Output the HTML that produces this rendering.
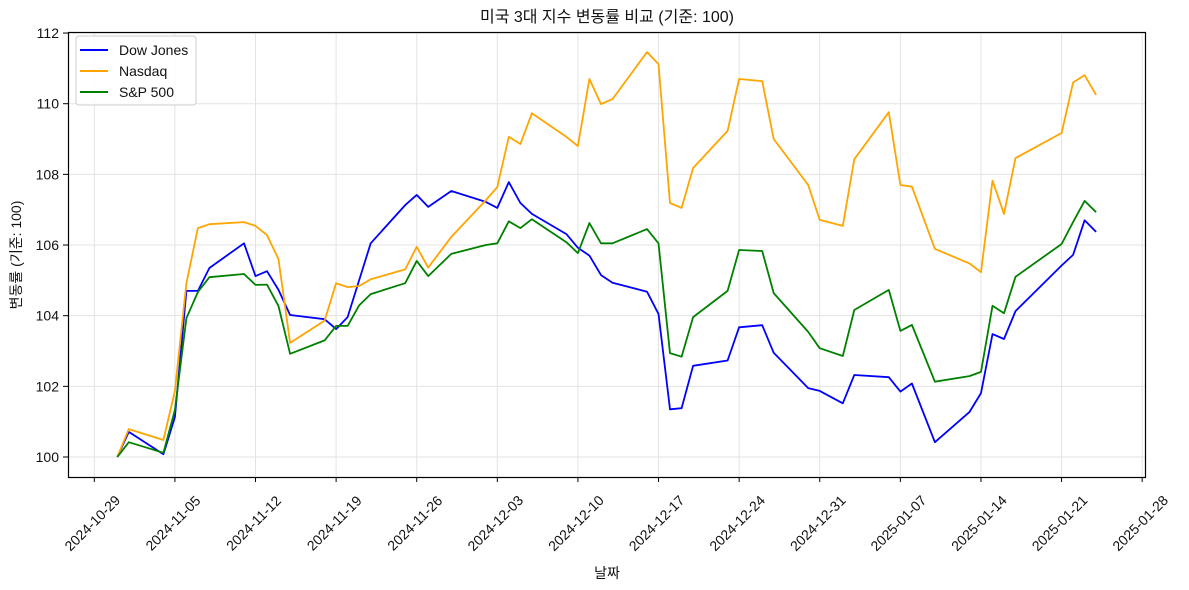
<!DOCTYPE html>
<html><head><meta charset="utf-8"><style>
html,body{margin:0;padding:0;background:#fff;}
svg{display:block;font-family:"Liberation Sans","Noto Sans CJK KR",sans-serif;}
</style></head><body>
<svg id="chart" width="1189" height="590" viewBox="0 0 1189 590" xmlns="http://www.w3.org/2000/svg">
<rect x="0" y="0" width="1189" height="590" fill="#fff"/>
<text x="607" y="22" text-anchor="middle" font-size="16" fill="#111">미국 3대 지수 변동률 비교 (기준: 100)</text>
<g id="grid"></g>
<g id="series"></g>
<rect x="68.5" y="32.5" width="1077" height="445" fill="none" stroke="#000" stroke-width="1.2"/>
<g id="axes"></g>
<text x="607" y="578" text-anchor="middle" font-size="14" fill="#111">날짜</text>
<text transform="translate(21,255) rotate(-90)" text-anchor="middle" font-size="14" fill="#111">변동률 (기준: 100)</text>
<g>
<rect x="76" y="36" width="120" height="69" rx="3" fill="#fff" fill-opacity="0.85" stroke="#ccc"/>
<g><line x1="80" y1="50" x2="108" y2="50" stroke="blue" stroke-width="2"/><text x="119" y="55" font-size="14" fill="#111">Dow Jones</text></g>
<g><line x1="80" y1="71" x2="108" y2="71" stroke="orange" stroke-width="2"/><text x="119" y="76" font-size="14" fill="#111">Nasdaq</text></g>
<g><line x1="80" y1="92" x2="108" y2="92" stroke="green" stroke-width="2"/><text x="119" y="97" font-size="14" fill="#111">S&amp;P 500</text></g>
</g>
</svg>
<script>
const dates = ["2024-10-31","2024-11-01","2024-11-04","2024-11-05","2024-11-06","2024-11-07","2024-11-08","2024-11-11","2024-11-12","2024-11-13","2024-11-14","2024-11-15","2024-11-18","2024-11-19","2024-11-20","2024-11-21","2024-11-22","2024-11-25","2024-11-26","2024-11-27","2024-11-29","2024-12-02","2024-12-03","2024-12-04","2024-12-05","2024-12-06","2024-12-09","2024-12-10","2024-12-11","2024-12-12","2024-12-13","2024-12-16","2024-12-17","2024-12-18","2024-12-19","2024-12-20","2024-12-23","2024-12-24","2024-12-26","2024-12-27","2024-12-30","2024-12-31","2025-01-02","2025-01-03","2025-01-06","2025-01-07","2025-01-08","2025-01-10","2025-01-13","2025-01-14","2025-01-15","2025-01-16","2025-01-17","2025-01-21","2025-01-22","2025-01-23","2025-01-24"];
const dowValues = [100,100.71,100.08,101.13,104.7,104.7,105.35,106.05,105.12,105.26,104.73,104.02,103.9,103.62,103.96,105.0,106.05,107.13,107.42,107.08,107.53,107.22,107.05,107.78,107.19,106.88,106.31,105.92,105.7,105.15,104.93,104.68,104.05,101.35,101.38,102.58,102.73,103.67,103.73,102.95,101.95,101.87,101.52,102.32,102.26,101.85,102.08,100.42,101.27,101.81,103.48,103.34,104.13,105.42,105.72,106.7,106.37];
const nasdaqValues = [100,100.79,100.48,101.87,104.92,106.48,106.59,106.65,106.54,106.28,105.6,103.23,103.86,104.92,104.81,104.84,105.03,105.31,105.95,105.36,106.23,107.27,107.64,109.06,108.86,109.73,109.06,108.8,110.7,109.99,110.13,111.46,111.12,107.19,107.05,108.18,109.23,110.7,110.64,109.0,107.7,106.71,106.54,108.43,109.76,107.7,107.65,105.89,105.48,105.23,107.82,106.88,108.46,109.17,110.6,110.81,110.25];
const spValues = [100,100.42,100.12,101.33,103.93,104.67,105.09,105.18,104.87,104.88,104.27,102.92,103.3,103.71,103.71,104.29,104.61,104.92,105.55,105.12,105.75,106.0,106.05,106.67,106.48,106.73,106.08,105.77,106.62,106.05,106.05,106.45,106.05,102.94,102.84,103.96,104.7,105.86,105.83,104.64,103.54,103.08,102.86,104.16,104.73,103.57,103.74,102.13,102.29,102.41,104.28,104.07,105.1,106.03,106.65,107.25,106.93];
const xTickLabels = ["2024-10-29","2024-11-05","2024-11-12","2024-11-19","2024-11-26","2024-12-03","2024-12-10","2024-12-17","2024-12-24","2024-12-31","2025-01-07","2025-01-14","2025-01-21","2025-01-28"];
const yTickValues = [100,102,104,106,108,110,112];

const NS="http://www.w3.org/2000/svg";
const day0 = Date.UTC(2024,9,29);
function dayOf(s){const p=s.split("-");return (Date.UTC(+p[0],+p[1]-1,+p[2])-day0)/86400000;}
function xScale(s){return 94.3+dayOf(s)*11.515;}
function yScale(v){return 457-(v-100)*35.33;}
function mk(tag,attrs,parent){const e=document.createElementNS(NS,tag);for(const k in attrs)e.setAttribute(k,attrs[k]);parent.appendChild(e);return e;}
const grid=document.getElementById("grid"), axes=document.getElementById("axes"), ser=document.getElementById("series");
xTickLabels.forEach(l=>{
  const x=xScale(l);
  const g=mk("line",{x1:x,y1:32,x2:x,y2:477,stroke:"#e3e3e3","stroke-width":1},grid);
  
  
  const t=mk("line",{x1:x,y1:477,x2:x,y2:482,stroke:"#000","stroke-width":1},axes);
  
  
  const tx=mk("text",{x:0,y:0,"text-anchor":"middle","dominant-baseline":"central","font-size":14,fill:"#111",transform:`translate(${x-2},523) rotate(-45)`},axes);
  tx.textContent=l;
  
  
});
yTickValues.forEach(v=>{
  const y=yScale(v);
  const g=mk("line",{x1:68,y1:y,x2:1145,y2:y,stroke:"#e3e3e3","stroke-width":1},grid);
  
  
  const t=mk("line",{x1:63,y1:y,x2:68,y2:y,stroke:"#000","stroke-width":1},axes);
  
  
  const tx=mk("text",{x:59,y:y+5,"text-anchor":"end","font-size":14,fill:"#111"},axes);
  tx.textContent=String(v);
  
  
});
function drawLine(vals,color,name){
  const pts=vals.map((v,i)=>xScale(dates[i]).toFixed(1)+","+yScale(v).toFixed(1)).join(" ");
  const p=mk("polyline",{points:pts,fill:"none",stroke:color,"stroke-width":1.8,"stroke-linejoin":"round"},ser);
  
  
}
drawLine(dowValues,"blue","dow-jones-line");
drawLine(nasdaqValues,"orange","nasdaq-line");
drawLine(spValues,"green","sp500-line");
</script>
</body></html>
